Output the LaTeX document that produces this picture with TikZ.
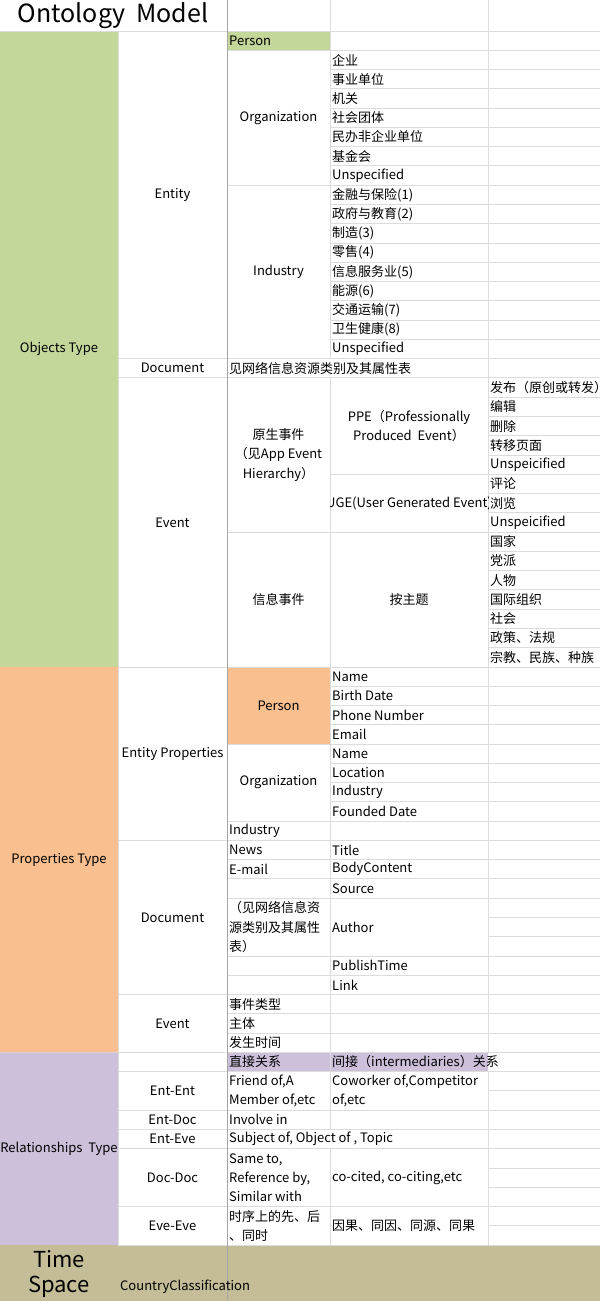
\documentclass[tikz,border=0pt]{standalone}
\usepackage{fontspec}
\setmainfont{Noto Sans CJK SC}

\definecolor{objgreen}{HTML}{C4D79B}
\definecolor{proporange}{HTML}{FABF8F}
\definecolor{relpurple}{HTML}{CCC0DA}
\definecolor{timeolive}{HTML}{C4BD97}
\definecolor{gridgray}{HTML}{DCDCDC}
\definecolor{panegray}{HTML}{A6A6A6}
\newcommand\cellfont{\fontsize{13}{19.27}\selectfont}

\begin{document}
\begin{tikzpicture}[x=1pt,y=-19.27pt,
    every node/.style={font=\cellfont,inner sep=0pt},
    lcell/.style={anchor=west,align=left},
    ccell/.style={align=center},
    grid/.style={draw=gridgray,line width=0.8pt},
    big/.style={font=\fontsize{25}{27}\selectfont},
    bigger/.style={font=\fontsize{22}{24}\selectfont}]
    \useasboundingbox (0,-1.609) rectangle (600,65.906);

    % coloured cells
    \fill[objgreen] (0,0) rectangle (118,33) (227,0) rectangle (330,1);
    \fill[proporange] (0,33) rectangle (118,53) (227,33) rectangle (330,37);
    \fill[relpurple] (0,53) rectangle (118,63) (227,53) rectangle (488,54);
    \fill[timeolive] (0,63) rectangle (600,65.906);

    % grid lines
    \foreach \r in {0,17,18,33,42,50,53,54,56,57,58,61,63}
        \draw[grid] (118,\r) -- (227,\r);
    \foreach \r in {0,1,8,17,18,26,33,37,41,42,43,44,45,48,49,50,51,52,53,54,56,57,58,61,63}
        \draw[grid] (227,\r) -- (330,\r);
    \foreach \r in {0,...,18}
        \draw[grid] (330,\r) -- (488,\r);
    \foreach \r in {23,26,33,34,35,36,37,38,39,40,41,42,43,44,45,48,49,50,51,52,53,54,56,57,58,61,63}
        \draw[grid] (330,\r) -- (488,\r);
    \foreach \r in {0,...,63}
        \draw[grid] (488,\r) -- (600,\r);
    \draw[grid] (0,0) -- (118,0);
    \draw[grid] (118,0) -- (118,63);
    \draw[grid] (330,-1.609) -- (330,17) (330,18) -- (330,57) (330,58) -- (330,63);
    \draw[grid] (488,-1.609) -- (488,53) (488,54) -- (488,63);
    \draw[draw=panegray,line width=0.8pt] (227,-1.609) -- (227,65.906);

    % title
    \node[big] (title) at (113,-0.8) {Ontology\hspace{0.2em} Model};

    % Objects Type
    \node (objType) at (59,16.5) {Objects Type};
    \node (entity) at (172.5,8.5) {Entity};
    \node (docObj) at (172.5,17.5) {Document};
    \node (evtObj) at (172.5,25.5) {Event};
    \node[lcell] (person) at (229,0.5) {Person};
    \node (org) at (278.5,4.5) {Organization};
    \node (ind) at (278.5,12.5) {Industry};
    \node[lcell] (docRef) at (229,17.5) {见网络信息资源类别及其属性表};
    \foreach \t [count=\i] in {企业,事业单位,机关,社会团体,民办非企业单位,基金会,Unspecified}
        \node[lcell] (org\i) at (332,\i+0.5) {\t};
    \foreach \t [count=\i from 8] in {金融与保险(1),政府与教育(2),制造(3),零售(4),信息服务业(5),能源(6),交通运输(7),卫生健康(8),Unspecified}
        \node[lcell] (ind\i) at (332,\i+0.5) {\t};
    \node[ccell] (native) at (278.5,22) {原生事件\\（见App Event\\Hierarchy）};
    \node (info) at (278.5,29.5) {信息事件};
    \node[ccell] (ppe) at (409,20.5) {PPE（Professionally\\Produced\ \ Event）};
    \begin{scope}
        \clip (330,23) rectangle (488,26);
        \node (uge) at (409,24.5) {UGE(User Generated Event)};
    \end{scope}
    \node (topic) at (409,29.5) {按主题};
    \foreach \t [count=\i from 18] in {发布（原创或转发）,编辑,删除,转移页面,Unspeicified,评论,浏览,Unspeicified,国家,党派,人物,国际组织,社会,政策、法规,宗教、民族、种族}
        \node[lcell] (evt\i) at (490,\i+0.5) {\t};

    % Properties Type
    \node (propType) at (59,43) {Properties Type};
    \node (entProp) at (172.5,37.5) {Entity Properties};
    \node (docProp) at (172.5,46) {Document};
    \node (evtProp) at (172.5,51.5) {Event};
    \node (personP) at (278.5,35) {Person};
    \node (orgP) at (278.5,39) {Organization};
    \node[lcell] (indP) at (229,41.5) {Industry};
    \node[lcell] (news) at (229,42.5) {News};
    \node[lcell] (email) at (229,43.5) {E-mail};
    \node[lcell] (docRefP) at (229,46.5) {（见网络信息资\\源类别及其属性\\表）};
    \foreach \t [count=\i from 33] in {Name,Birth Date,Phone Number,Email,Name,Location,Industry,Founded Date}
        \node[lcell] (attr\i) at (332,\i+0.5) {\t};
    \foreach \t [count=\i from 42] in {Title,BodyContent,Source}
        \node[lcell] (attr\i) at (332,\i+0.5) {\t};
    \node[lcell] (author) at (332,46.5) {Author};
    \node[lcell] (pubTime) at (332,48.5) {PublishTime};
    \node[lcell] (link) at (332,49.5) {Link};
    \foreach \t [count=\i from 50] in {事件类型,主体,发生时间}
        \node[lcell] (evtAttr\i) at (229,\i+0.5) {\t};

    % Relationships Type
    \node (relType) at (59,58) {Relationships\ \ Type};
    \node (entEnt) at (172.5,55) {Ent-Ent};
    \node (entDoc) at (172.5,56.5) {Ent-Doc};
    \node (entEve) at (172.5,57.5) {Ent-Eve};
    \node (docDoc) at (172.5,59.5) {Doc-Doc};
    \node (eveEve) at (172.5,62) {Eve-Eve};
    \node[lcell] (direct) at (229,53.5) {直接关系};
    \node[lcell] (indirect) at (332,53.5) {间接（intermediaries）关系};
    \node[lcell] (entEntD) at (229,55) {Friend of,A\\Member of,etc};
    \node[lcell] (entEntI) at (332,55) {Coworker of,Competitor\\of,etc};
    \node[lcell] (entDocD) at (229,56.5) {Involve in};
    \node[lcell] (entEveD) at (229,57.5) {Subject of, Object of , Topic};
    \node[lcell] (docDocD) at (229,59.5) {Same to,\\Reference by,\\Similar with};
    \node[lcell] (docDocI) at (332,59.5) {co-cited, co-citing,etc};
    \node[lcell] (eveEveD) at (229,62) {时序上的先、后\\、同时};
    \node[lcell] (eveEveI) at (332,62) {因果、同因、同源、同果};

    % Time / Space
    \node[bigger] (time) at (59,63.73) {Time};
    \node[bigger] (space) at (59,65.18) {Space};
    \node[lcell] (country) at (120,65.18) {CountryClassification};
\end{tikzpicture}
\end{document}
